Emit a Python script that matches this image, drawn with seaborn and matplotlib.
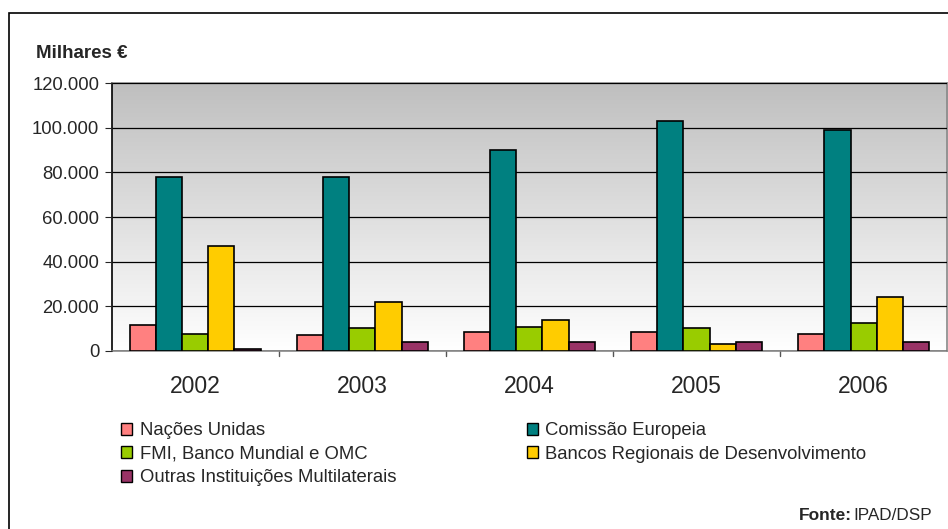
import numpy as np
import pandas as pd
import matplotlib
matplotlib.use("Agg")
import matplotlib.pyplot as plt
from matplotlib.patches import Rectangle
from matplotlib.ticker import FuncFormatter
import seaborn as sns

years = ["2002", "2003", "2004", "2005", "2006"]
series = ["Nações Unidas", "Comissão Europeia", "FMI, Banco Mundial e OMC",
          "Bancos Regionais de Desenvolvimento", "Outras Instituições Multilaterais"]
nacoes_unidas = [11800, 7000, 8600, 8600, 7700]
comissao_europeia = [78000, 78000, 90200, 103000, 99000]
fmi_bm_omc = [7600, 10100, 10900, 10100, 12400]
bancos_regionais = [47000, 21800, 14000, 3000, 24000]
outras = [800, 3900, 3900, 3900, 3900]
colors = ["#ff8080", "#008080", "#99cc00", "#ffcc00", "#993366"]

df = pd.DataFrame({
    "ano": years * 5,
    "serie": np.repeat(series, 5),
    "valor": nacoes_unidas + comissao_europeia + fmi_bm_omc + bancos_regionais + outras,
})

sns.set_style("white")
plt.rcParams["font.family"] = ["Liberation Sans", "DejaVu Sans"]

fig = plt.figure(figsize=(9.48, 5.29), dpi=100)
ax = fig.add_axes([0.118, 0.3365, 0.881, 0.5065])

# gradient background: grey on top, white at bottom
grad = np.linspace(0, 1, 256).reshape(-1, 1)
ax.imshow(grad, extent=[0, 1, 0, 1], transform=ax.transAxes, aspect="auto",
          cmap=matplotlib.colors.LinearSegmentedColormap.from_list("g", ["#ffffff", "#bfbfbf"]),
          origin="lower", zorder=0)

sns.barplot(data=df, x="ano", y="valor", hue="serie", palette=colors, saturation=1,
            width=0.78, edgecolor="black", linewidth=1.2, ax=ax, legend=False,
            zorder=3)

ax.set_ylim(0, 120000)
ax.set_xlim(-0.5, 4.5)
ax.set_yticks(np.arange(0, 120001, 20000))
ax.yaxis.set_major_formatter(FuncFormatter(lambda v, p: f"{int(v):,}".replace(",", ".")))
ax.grid(axis="y", color="black", linewidth=0.9, zorder=1)
ax.set_axisbelow(False)
for ln in ax.get_ygridlines():
    ln.set_zorder(1)
ax.set_xlabel("")
ax.set_ylabel("")
ax.tick_params(axis="y", labelsize=13.3, length=5, direction="out", left=True, pad=4)
ax.tick_params(axis="x", labelsize=16.5, length=0, pad=17)
# separators between year groups
for b in [0.5, 1.5, 2.5, 3.5]:
    ax.plot([b, b], [0, -0.02], transform=ax.get_xaxis_transform(), color="#555555",
            lw=1, clip_on=False)
ax.spines["left"].set_color("black")
ax.spines["bottom"].set_color("#888888")
ax.spines["top"].set_color("#888888")
ax.spines["right"].set_color("#888888")
for s in ax.spines.values():
    s.set_linewidth(1.2)

fig.text(36 / 948, 1 - 53 / 529, "Milhares €", fontsize=13.5, fontweight="bold",
         va="center", ha="left")

handles = [Rectangle((0, 0), 1, 1, facecolor=c, edgecolor="black", lw=1) for c in colors]
order = [0, 2, 4, 1, 3]
fig.legend([handles[i] for i in order], [series[i] for i in order],
           loc="upper left", bbox_to_anchor=(114 / 948, 1 - 415 / 529), ncol=2,
           frameon=False, fontsize=13.3, handlelength=0.6, handleheight=0.6,
           handletextpad=0.4, columnspacing=7.05, labelspacing=0.35,
           borderaxespad=0)

fig.text(932 / 948, 1 - 515 / 529, "IPAD/DSP", fontsize=12.3, ha="right", va="center")
fig.text(852 / 948, 1 - 515 / 529, "Fonte:", fontsize=12.5, fontweight="bold",
         ha="right", va="center")

fig.patches.append(Rectangle((9 / 948, -0.05), 1.1, 1 - 13 / 529 + 0.05,
                             transform=fig.transFigure, fill=False,
                             edgecolor="black", lw=1.2))

fig.savefig("out.png", dpi=100)
